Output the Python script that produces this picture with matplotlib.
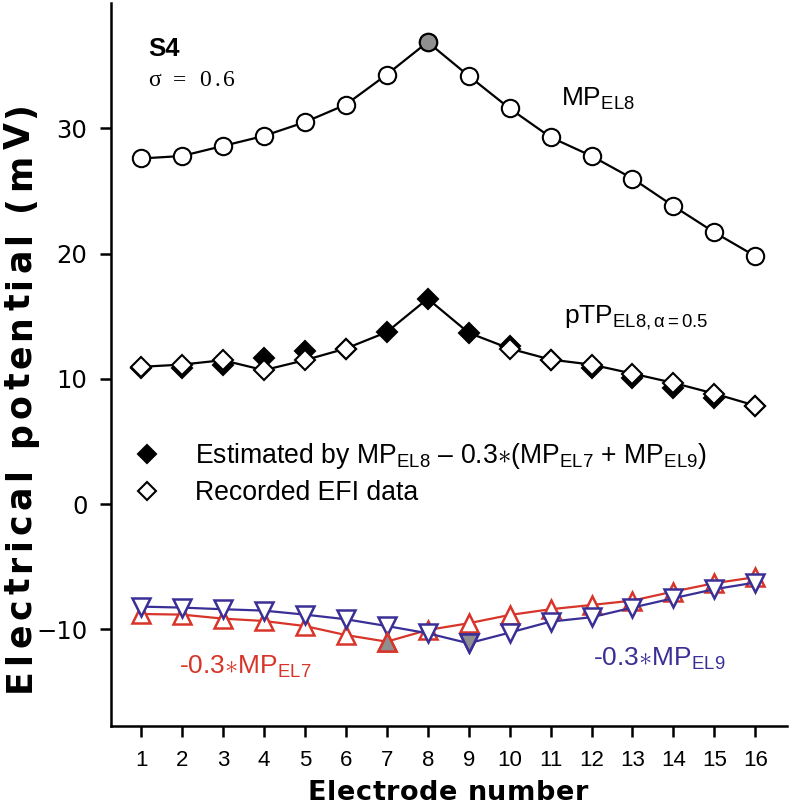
import numpy as np
import matplotlib
matplotlib.use('Agg')
import matplotlib.pyplot as plt
from matplotlib.lines import Line2D
from matplotlib.font_manager import FontProperties, findfont, get_font

plt.rcParams['font.family'] = ['Liberation Sans', 'DejaVu Sans']
plt.rcParams['mathtext.fontset'] = 'custom'
plt.rcParams['mathtext.rm'] = 'Liberation Sans'
plt.rcParams['mathtext.it'] = 'Liberation Sans:italic'

electrodes = np.arange(1, 17)

# monopolar potential of EL8
mp_el8 = [27.6, 27.8, 28.6, 29.4, 30.5, 31.9, 34.3, 36.9,
          34.2, 31.6, 29.3, 27.8, 26.0, 23.8, 21.7, 19.8]
# pTP recorded (EL7-9 not recorded)
recorded = [10.96, 11.14, 11.49, 10.69, 11.49, 12.42, np.nan, np.nan,
            np.nan, 12.42, 11.54, 11.14, 10.42, 9.68, 8.82, 7.86]
# estimated by MP8 - 0.3*(MP7+MP9)
estimated = [10.85, 10.88, 11.14, 11.68, 12.21, 12.35, 13.73, 16.4,
             13.68, 12.66, 11.54, 10.88, 10.08, 9.28, 8.48, 7.8]
# -0.3*MP_EL7 and -0.3*MP_EL9
mp_el7_scaled = [-8.78, -8.83, -9.15, -9.34, -9.74, -10.46, -10.99, -10.06,
                 -9.52, -8.86, -8.40, -8.06, -7.71, -6.99, -6.32, -5.84]
mp_el9_scaled = [-8.19, -8.27, -8.40, -8.51, -8.83, -9.20, -9.74, -10.32,
                 -11.12, -10.27, -9.39, -9.04, -8.27, -7.52, -6.80, -6.27]

red = '#d8352a'
blue = '#3a2f96'
gray = '#8f8f8f'
ast = r'$\ast$'

W, H = 789, 809
fig = plt.figure(figsize=(W / 100, H / 100), dpi=100)
ax = fig.add_axes([0.1403, 0.103, 0.857, 0.893])


def spaced_text(x_px, y_px, s, length_px, prop, rotation=0):
    # text stretched to a given length by letter spacing (pixel coords, y from top)
    font = get_font(findfont(prop))
    size = prop.get_size_in_points()
    font.set_size(size, 100)
    adv = [font.load_char(ord(c)).linearHoriAdvance / 65536 for c in s]
    extra = (length_px - sum(adv)) / (len(s) - 1)
    pos = 0.0
    for c, a in zip(s, adv):
        if rotation == 90:
            x, y = x_px, y_px - pos
        else:
            x, y = x_px + pos, y_px
        fig.text(x / W, 1 - y / H, c, fontproperties=prop, rotation=rotation,
                 rotation_mode='anchor', ha='left', va='baseline')
        pos += a + extra


# MP_EL8
ax.plot(electrodes, mp_el8, '-o', color='k', lw=1.6, ms=12.5, mfc='white', mec='k', mew=1.5, zorder=3)
ax.plot(electrodes[7], mp_el8[7], 'o', ms=12.5, mfc=gray, mec='k', mew=1.5, zorder=4)

# pTP line: recorded where available, estimated at EL7-9
rec = np.array(recorded)
est = np.array(estimated)
ptp_line = np.where(np.isnan(rec), est, rec)
ax.plot(electrodes, ptp_line, '-', color='k', lw=1.6, zorder=2)
ax.plot(electrodes, est, 'D', ms=9.8, mfc='k', mec='k', mew=1.5, zorder=3)
ax.plot(electrodes, rec, 'D', ms=9.8, mfc='white', mec='k', mew=1.5, zorder=4)

# scaled neighbours
ax.plot(electrodes, mp_el7_scaled, '-^', color=red, lw=1.6, ms=13, mfc='white', mec=red, mew=1.8, zorder=3)
ax.plot(electrodes[6], mp_el7_scaled[6], '^', ms=13, mfc=gray, mec=red, mew=1.8, zorder=4)
ax.plot(electrodes, mp_el9_scaled, '-v', color=blue, lw=1.6, ms=13, mfc='white', mec=blue, mew=1.8, zorder=3)
ax.plot(electrodes[8], mp_el9_scaled[8], 'v', ms=13, mfc=gray, mec=blue, mew=1.8, zorder=4)

ax.set_xlim(0.26, 16.77)
ax.set_ylim(-17.7, 40)
ax.set_xticks(electrodes)
ax.set_yticks([-10, 0, 10, 20, 30])
ax.spines['top'].set_visible(False)
ax.spines['right'].set_visible(False)
ax.spines['left'].set_linewidth(1.8)
ax.spines['bottom'].set_linewidth(1.8)
ax.tick_params(direction='out', length=7.7, width=1.8, pad=9)
ax.tick_params(axis='y', labelsize=17.5, labelfontfamily='DejaVu Sans')
ax.tick_params(axis='x', labelsize=16, pad=10)

# axis titles, letter-spaced like the original
bold_y = FontProperties(family='DejaVu Sans', weight='bold', size=25)
bold_x = FontProperties(family='DejaVu Sans', weight='bold', size=19.5)
spaced_text(30, 692, 'Electrical potential (mV)', 590, bold_y, rotation=90)
spaced_text(308, 800, 'Electrode number', 280, bold_x)

# annotations
ax.text(0.056, 0.937, 'S4', transform=ax.transAxes, fontsize=18.5, fontweight='bold', va='center')
spaced_text(148, 86, '\u03c3 = 0.6', 87, FontProperties(family='Liberation Serif', size=17))
ax.text(0.666, 0.867, r'MP$_{\rm EL8}$', transform=ax.transAxes, fontsize=19, va='center')
ax.text(0.671, 0.565, r'pTP$_{\rm EL8,\alpha=0.5}$', transform=ax.transAxes, fontsize=19, va='center')
ax.text(0.1005, 0.082, '-0.3' + ast + r'MP$_{\rm EL7}$', transform=ax.transAxes, fontsize=19,
        color=red, va='center')
ax.text(0.7135, 0.092, '-0.3' + ast + r'MP$_{\rm EL9}$', transform=ax.transAxes, fontsize=19,
        color=blue, va='center')

handles = [
    Line2D([], [], ls='none', marker='D', ms=9.5, mfc='k', mec='k', mew=1.5),
    Line2D([], [], ls='none', marker='D', ms=9.5, mfc='white', mec='k', mew=1.5),
]
labels = ['Estimated by MP$_{\\rm EL8}$ \u2013 0.3' + ast + '(MP$_{\\rm EL7}$ + MP$_{\\rm EL9}$)',
          'Recorded EFI data']
ax.legend(handles, labels, loc='upper left', bbox_to_anchor=(-0.0213, 0.427), frameon=False,
          fontsize=19.2, handletextpad=0.8, labelspacing=0.33)

fig.savefig('out.png', dpi=100)
